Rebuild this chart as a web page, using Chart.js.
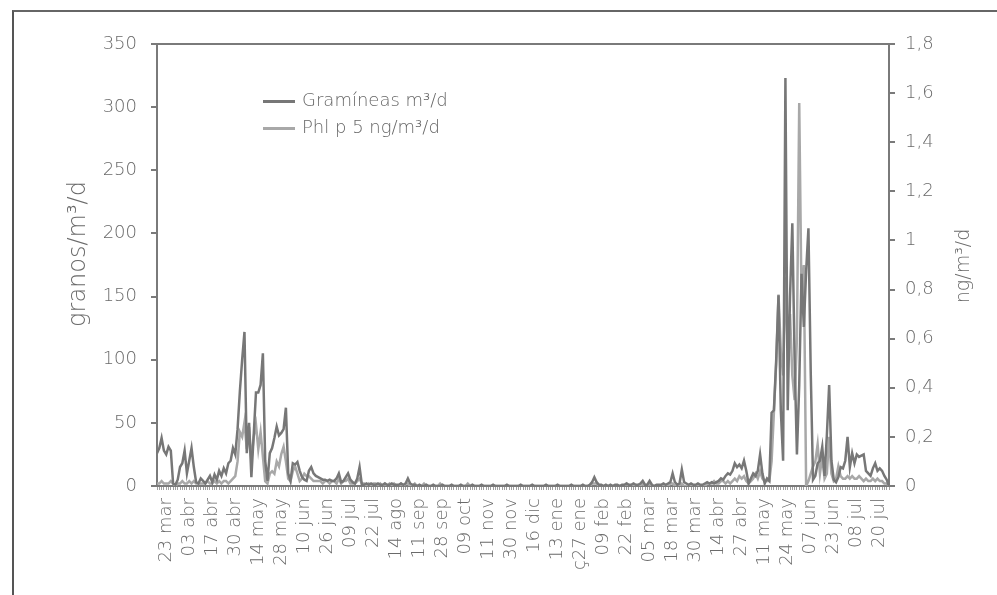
<!DOCTYPE html>
<html>
<head>
<meta charset="utf-8">
<script src="https://cdn.jsdelivr.net/npm/chart.js@4.4.0/dist/chart.umd.min.js"></script>
<style>
  body { margin: 0; background: #fff; }
  #wrap { position: relative; width: 997px; height: 595px; overflow: hidden; }
  #frame { position: absolute; left: 12px; top: 10px; right: -4px; bottom: -4px; border-left: 2px solid #555; border-top: 2px solid #666; }
  .leg { position: absolute; left: 263px; font: 200 18px "DejaVu Sans", sans-serif; color: #666; white-space: nowrap; }
  .leg i { display: inline-block; width: 32px; height: 3px; vertical-align: middle; margin-right: 7px; }
</style>
</head>
<body>
<div id="wrap">
  <canvas id="chart" width="997" height="595"></canvas>
  <div id="frame"></div>
  <div class="leg" style="top: 89px"><i style="background:#777"></i>Gramíneas m³/d</div>
  <div class="leg" style="top: 116px"><i style="background:#a8a8a8"></i>Phl p 5 ng/m³/d</div>
</div>
<script>
// etiquetas del eje x (una cada 10 muestras)
const tickLabels = ['23 mar', '03 abr', '17 abr', '30 abr', '14 may', '28 may', '10 jun', '26 jun',
  '09 jul', '22 jul', '14 ago', '11 sep', '28 sep', '09 oct', '11 nov', '30 nov', '16 dic',
  '13 ene', 'ç27 ene', '09 feb', '22 feb', '05 mar', '18 mar', '30 mar', '14 abr', '27 abr',
  '11 may', '24 may', '07 jun', '23 jun', '08 jul', '20 jul'];
const firstLabelAt = 4;
const labelStep = 10;

// granos/m3/d (eje izquierdo)
const gramineas = [
  26, 30, 38, 28, 25, 31, 28, 2, 1, 5,
  15, 18, 28, 10, 20, 30, 15, 3, 2, 6,
  4, 2, 5, 8, 3, 9, 5, 12, 8, 14,
  10, 18, 20, 30, 25, 45, 75, 100, 122, 26,
  50, 7, 40, 74, 74, 80, 105, 20, 4, 26,
  30, 38, 47, 40, 42, 45, 62, 10, 4, 18,
  17, 19, 12, 7, 5, 4, 12, 15, 10, 8,
  7, 6, 5, 5, 4, 5, 4, 4, 6, 10,
  3, 4, 7, 10, 5, 3, 2, 6, 15, 1,
  1, 2, 1, 2, 1, 1, 2, 1, 1, 2,
  1, 1, 2, 1, 1, 1, 2, 1, 2, 6,
  2, 1, 1, 0, 1, 0, 0, 1, 0, 0,
  1, 0, 0, 0, 1, 0, 0, 0, 1, 0,
  0, 0, 1, 0, 0, 0, 0, 1, 0, 0,
  0, 1, 0, 0, 0, 0, 1, 0, 0, 0,
  0, 0, 1, 0, 0, 0, 0, 0, 1, 0,
  0, 0, 0, 1, 0, 0, 0, 0, 0, 1,
  0, 0, 0, 0, 1, 0, 0, 0, 0, 0,
  1, 0, 0, 0, 0, 1, 0, 0, 1, 3,
  7, 3, 1, 1, 0, 1, 0, 1, 0, 1,
  1, 0, 1, 1, 2, 1, 1, 2, 1, 1,
  2, 4, 1, 1, 4, 1, 0, 1, 1, 1,
  2, 1, 2, 3, 10, 3, 1, 2, 13, 3,
  2, 1, 2, 1, 1, 2, 1, 1, 2, 3,
  2, 3, 2, 3, 4, 6, 5, 8, 10, 9,
  12, 18, 15, 17, 14, 20, 12, 2, 6, 10,
  8, 12, 25, 10, 2, 6, 4, 58, 60, 100,
  151, 60, 20, 323, 60, 150, 208, 100, 25, 80,
  168, 126, 170, 204, 90, 5, 8, 18, 20, 31,
  8, 40, 80, 20, 5, 3, 7, 15, 14, 20,
  39, 15, 26, 18, 25, 23, 24, 25, 12, 10,
  8, 14, 18, 12, 14, 12, 8, 5, 0
];

// Phl p 5 ng/m3/d (eje derecho)
const phlp5 = [
  0.01, 0.01, 0.02, 0.01, 0.01, 0.01, 0.02, 0.01, 0, 0.01,
  0.01, 0.02, 0.01, 0.01, 0.02, 0.01, 0.02, 0.01, 0.01, 0.01,
  0.01, 0.01, 0.02, 0.01, 0.01, 0.02, 0.01, 0.02, 0.01, 0.02,
  0.02, 0.01, 0.02, 0.03, 0.04, 0.1, 0.22, 0.2, 0.26, 0.15,
  0.24, 0.1, 0.2, 0.25, 0.15, 0.22, 0.12, 0.02, 0.01, 0.05,
  0.06, 0.05, 0.1, 0.08, 0.13, 0.16, 0.1, 0.03, 0.02, 0.06,
  0.08, 0.05, 0.02, 0.03, 0.05, 0.04, 0.04, 0.03, 0.02, 0.02,
  0.02, 0.02, 0.01, 0.02, 0.02, 0.01, 0.02, 0.02, 0.01, 0.03,
  0.01, 0.02, 0.02, 0.03, 0.01, 0.01, 0.01, 0.02, 0.03, 0.01,
  0.01, 0, 0.01, 0, 0.01, 0.01, 0, 0.01, 0, 0.01,
  0, 0.01, 0, 0.01, 0, 0, 0.01, 0, 0.01, 0.01,
  0, 0, 0.01, 0, 0, 0, 0.01, 0, 0, 0,
  0, 0, 0, 0.01, 0, 0, 0, 0, 0, 0,
  0, 0, 0, 0, 0, 0.01, 0, 0, 0, 0,
  0, 0, 0, 0, 0, 0, 0, 0, 0, 0,
  0, 0, 0, 0, 0, 0, 0, 0, 0, 0,
  0, 0, 0, 0, 0, 0, 0, 0, 0, 0,
  0, 0, 0, 0, 0, 0, 0, 0, 0, 0,
  0, 0, 0, 0, 0, 0, 0, 0, 0, 0.01,
  0.01, 0.01, 0, 0, 0, 0, 0, 0, 0, 0,
  0, 0, 0, 0, 0.01, 0, 0, 0, 0, 0,
  0, 0.01, 0, 0, 0.01, 0, 0, 0, 0, 0,
  0, 0, 0, 0.01, 0.01, 0, 0, 0, 0.01, 0,
  0, 0, 0, 0, 0, 0, 0, 0, 0, 0.01,
  0.01, 0.01, 0.02, 0.01, 0.01, 0.02, 0.02, 0.01, 0.02, 0.01,
  0.02, 0.03, 0.02, 0.04, 0.03, 0.04, 0.02, 0.01, 0.02, 0.03,
  0.05, 0.03, 0.06, 0.03, 0.02, 0.02, 0.02, 0.1, 0.3, 0.5,
  0.78, 0.55, 0.45, 0.85, 0.55, 0.7, 0.45, 0.35, 0.6, 1.56,
  0.75, 0.9, 0, 0.02, 0.05, 0.08, 0.1, 0.17, 0.05, 0.12,
  0.03, 0.05, 0.2, 0.05, 0.02, 0.03, 0.08, 0.04, 0.03, 0.03,
  0.04, 0.03, 0.04, 0.03, 0.03, 0.04, 0.03, 0.02, 0.03, 0.02,
  0.02, 0.03, 0.02, 0.03, 0.02, 0.02, 0.01, 0.01, 0
];

const labels = gramineas.map((_, i) => {
  const k = (i - firstLabelAt) / labelStep;
  return Number.isInteger(k) && k >= 0 && k < tickLabels.length ? tickLabels[k] : '';
});

const fontFamily = '"DejaVu Sans", sans-serif';
const textColor = '#6a6a6a';
const axisColor = '#7a7a7a';

// borde superior del area y titulos de los ejes
const decorPlugin = {
  id: 'decor',
  afterDraw(chart) {
    const { ctx, chartArea } = chart;
    ctx.save();
    ctx.strokeStyle = axisColor;
    ctx.lineWidth = 2;
    ctx.beginPath();
    ctx.moveTo(chartArea.left - 1, chartArea.top);
    ctx.lineTo(chartArea.right + 1, chartArea.top);
    ctx.stroke();

    ctx.fillStyle = textColor;
    ctx.font = '200 24px ' + fontFamily;
    ctx.textAlign = 'center';
    ctx.textBaseline = 'middle';
    ctx.translate(79, 254);
    ctx.rotate(-Math.PI / 2);
    ctx.fillText('granos/m³/d', 0, 0);
    ctx.restore();

    ctx.save();
    ctx.fillStyle = textColor;
    ctx.font = '200 19px ' + fontFamily;
    ctx.textAlign = 'center';
    ctx.textBaseline = 'middle';
    ctx.translate(964, 266);
    ctx.rotate(-Math.PI / 2);
    ctx.fillText('ng/m³/d', 0, 0);
    ctx.restore();
  }
};

const tickFont = { family: fontFamily, size: 18, weight: 200 };

new Chart(document.getElementById('chart'), {
  type: 'line',
  data: {
    labels: labels,
    datasets: [{
      label: 'Gramíneas m³/d',
      data: gramineas,
      yAxisID: 'y',
      borderColor: '#777',
      borderWidth: 2.5,
      pointRadius: 0,
      tension: 0
    }, {
      label: 'Phl p 5 ng/m³/d',
      data: phlp5,
      yAxisID: 'y1',
      borderColor: '#a8a8a8',
      borderWidth: 2.5,
      pointRadius: 0,
      tension: 0
    }]
  },
  options: {
    responsive: false,
    animation: false,
    layout: { padding: { top: 44, left: 0, right: 0, bottom: 0 } },
    plugins: {
      legend: { display: false },
      tooltip: { enabled: false }
    },
    scales: {
      x: {
        offset: false,
        grid: { drawOnChartArea: false, tickLength: 4, color: '#a0a0a0', lineWidth: 1 },
        border: { color: axisColor, width: 2 },
        ticks: {
          autoSkip: false,
          minRotation: 90,
          maxRotation: 90,
          padding: 8,
          color: textColor,
          font: { family: fontFamily, size: 18, weight: 200 }
        },
        afterFit: (s) => { s.height = 109; }
      },
      y: {
        position: 'left',
        min: 0,
        max: 350,
        ticks: { stepSize: 50, padding: 14, color: textColor, font: tickFont },
        grid: { drawOnChartArea: false, tickLength: 6, color: axisColor, lineWidth: 2 },
        border: { color: axisColor, width: 2 },
        afterFit: (s) => { s.width = 157; }
      },
      y1: {
        position: 'right',
        min: 0,
        max: 1.8,
        ticks: {
          stepSize: 0.2,
          padding: 10,
          color: textColor,
          font: tickFont,
          callback: (v) => String(Number(v.toFixed(1))).replace('.', ',')
        },
        grid: { drawOnChartArea: false, tickLength: 6, color: axisColor, lineWidth: 2 },
        border: { color: axisColor, width: 2 },
        afterFit: (s) => { s.width = 108; }
      }
    }
  },
  plugins: [decorPlugin]
});
</script>
</body>
</html>
